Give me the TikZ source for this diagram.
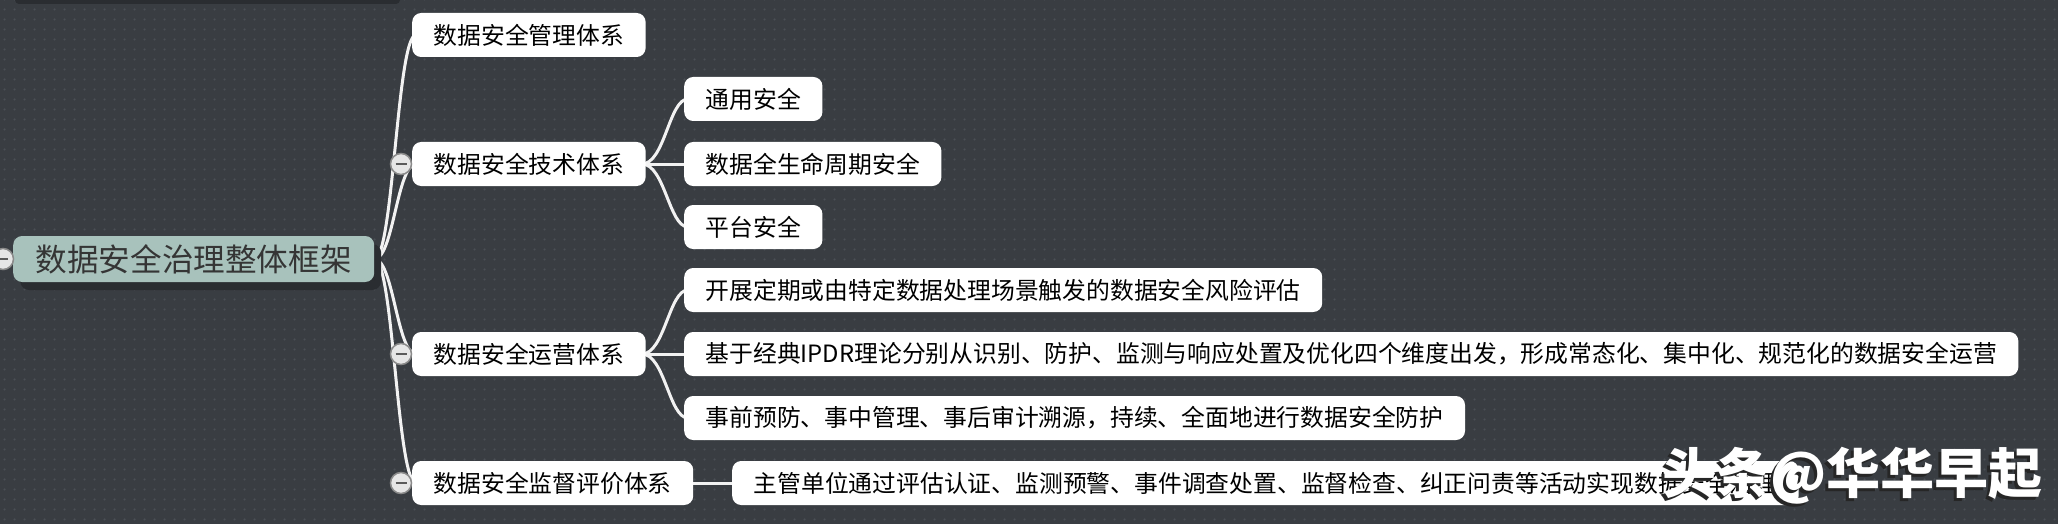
\documentclass[tikz,border=0pt]{standalone}
\usepackage{fontspec}
\newfontfamily\cjk{Noto Sans CJK SC}
\usetikzlibrary{patterns,shadows}
\definecolor{bg}{HTML}{393D42}
\definecolor{dotc}{HTML}{4A4F55}
\definecolor{rootc}{HTML}{A8C2BC}
\definecolor{roottext}{HTML}{353535}
\definecolor{shadowc}{HTML}{2A2D31}
\definecolor{linec}{HTML}{F2F2F2}
\definecolor{knobfill}{HTML}{E6E6E6}
\definecolor{knobline}{HTML}{8A8A8A}
\definecolor{knobbar}{HTML}{5A5A5A}
\pgfdeclarepatternformonly{bgdots}{\pgfpointorigin}{\pgfpoint{9.5pt}{9.5pt}}{\pgfpoint{9.5pt}{9.5pt}}{\pgfpathcircle{\pgfpoint{4.75pt}{4.75pt}}{1.3pt}\pgfusepath{fill}}
\pgfdeclarelayer{bgl}
\pgfdeclarelayer{lines}
\pgfsetlayers{bgl,lines,main}
\begin{document}
\begin{tikzpicture}[x=1pt,y=-1pt,
  rootbox/.style={fill=rootc, rounded corners=9pt, text=roottext, font=\cjk\fontsize{31.6pt}{36pt}\selectfont, minimum height=46pt, inner xsep=22.5pt, inner ysep=0pt, anchor=west,
    drop shadow={shadow xshift=7pt, shadow yshift=-8pt, fill=shadowc, opacity=1}},
  topic/.style={fill=white, rounded corners=9pt, text=black, font=\cjk\fontsize{23.8pt}{28pt}\selectfont, minimum height=44pt, inner xsep=21.5pt, inner ysep=0pt, anchor=west},
  branch/.style={draw=linec, line width=3pt},
  knob/.style={circle, draw=knobline, fill=knobfill, line width=1.5pt, minimum size=21pt, inner sep=0pt},
  knobminus/.style={draw=knobbar, line width=2.2pt},
  wm/.style={font=\cjk\bfseries\fontsize{54pt}{60pt}\selectfont, anchor=west, inner sep=0pt},
]
\useasboundingbox (0,0) rectangle (2058,524);
\clip (0,0) rectangle (2058,524);
\begin{pgfonlayer}{bgl}
\fill[bg] (0,0) rectangle (2058,524);
\fill[pattern=bgdots, pattern color=dotc] (0,0) rectangle (2058,524);
\fill[shadowc, rounded corners=4pt] (15,-10) rectangle (400,4);
\end{pgfonlayer}

% nodes
\node[rootbox] (root) at (13,259) {数据安全治理整体框架};
\node[topic] (t1) at (412,35) {数据安全管理体系};
\node[topic] (t2) at (412,164) {数据安全技术体系};
\node[topic] (t3) at (412,354) {数据安全运营体系};
\node[topic] (t4) at (412,483) {数据安全监督评价体系};

\node[topic] (a1) at (684,99) {通用安全};
\node[topic] (a2) at (684,164) {数据全生命周期安全};
\node[topic] (a3) at (684,227) {平台安全};

\node[topic] (b1) at (684,290) {开展定期或由特定数据处理场景触发的数据安全风险评估};
\node[topic] (b2) at (684,354) {基于经典IPDR理论分别从识别、防护、监测与响应处置及优化四个维度出发，形成常态化、集中化、规范化的数据安全运营};
\node[topic] (b3) at (684,418) {事前预防、事中管理、事后审计溯源，持续、全面地进行数据安全防护};

\node[topic] (d1) at (732,483) {主管单位通过评估认证、监测预警、事件调查处置、监督检查、纠正问责等活动实现数据安全治理};

% connectors
\begin{pgfonlayer}{lines}
\foreach \t in {t1,t2,t3,t4}
  \draw[branch] (root.east) .. controls +(19,0) and +(-19,0) .. ([xshift=4pt]\t.west);
\foreach \t in {a1,a2,a3}
  \draw[branch] ([xshift=-4pt]t2.east) .. controls +(23,0) and +(-19,0) .. ([xshift=4pt]\t.west);
\foreach \t in {b1,b2,b3}
  \draw[branch] ([xshift=-4pt]t3.east) .. controls +(23,0) and +(-19,0) .. ([xshift=4pt]\t.west);
\draw[branch] (t4.east) -- (d1.west);
\end{pgfonlayer}

% knobs
\node[knob] (k0) at (3,259) {};
\draw[knobminus] ([xshift=-5pt]k0.center) -- ([xshift=5pt]k0.center);
\foreach \t/\k in {t2/k2,t3/k3,t4/k4}{
  \node[knob] (\k) at ([xshift=-11pt]\t.west) {};
  \draw[knobminus] ([xshift=-5.5pt]\k.center) -- ([xshift=5.5pt]\k.center);
}

% watermark
\node[wm, text=black!85] (wms) at (1659,479) {头条@华华早起};
\node[wm, text=white] (wm) at (1662,476) {头条@华华早起};
\end{tikzpicture}
\end{document}
